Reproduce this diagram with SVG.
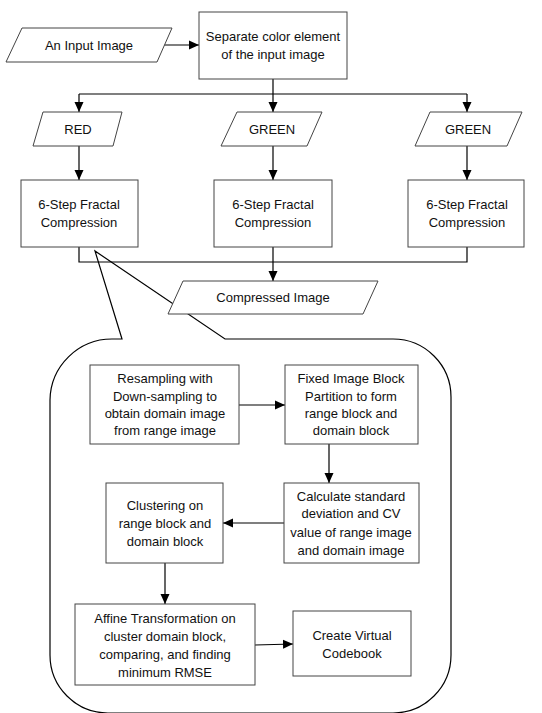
<svg xmlns="http://www.w3.org/2000/svg" width="542" height="713" viewBox="0 0 542 713">
<defs>
<marker id="ah" markerWidth="10" markerHeight="10" viewBox="0 0 10 10" refX="10" refY="5" orient="auto" markerUnits="userSpaceOnUse">
<path d="M0,0.5 L10,5 L0,9.5 Z" fill="#000"/>
</marker>
<style>
.s{fill:#fff;stroke:#444;stroke-width:1}
.c{fill:none;stroke:#000;stroke-width:1.2}
.a{marker-end:url(#ah)}
text{font-family:"Liberation Sans",Arial,sans-serif;font-size:13px;fill:#111;text-anchor:middle}
</style>
</defs>
<rect width="542" height="713" fill="#fff"/>
<g id="callout">
<path class="c" d="M225,339 L393,339 A58,58 0 0 1 451,397 L451,655 A58,58 0 0 1 393,713 L108,713 A58,58 0 0 1 50,655 L50,400 A62,62 0 0 1 112,339 L122,339 L95,251 Z"/>
</g>
<g id="connectors">
<line class="c a" x1="164" y1="45" x2="199" y2="45"/>
<path class="c" d="M273,79 V94 M79,94 H467"/>
<line class="c a" x1="79" y1="94" x2="79" y2="112"/>
<line class="c a" x1="273" y1="94" x2="273" y2="112"/>
<line class="c a" x1="467" y1="94" x2="467" y2="112"/>
<line class="c a" x1="79" y1="146" x2="79" y2="180"/>
<line class="c a" x1="273" y1="146" x2="273" y2="180"/>
<line class="c a" x1="467" y1="146" x2="467" y2="180"/>
<path class="c" d="M79,247 V262 H467 V247"/>
<line class="c a" x1="273" y1="247" x2="273" y2="281"/>
<line class="c a" x1="239" y1="405" x2="285" y2="405"/>
<line class="c a" x1="329" y1="444" x2="329" y2="483"/>
<line class="c a" x1="284" y1="523" x2="223" y2="523"/>
<line class="c a" x1="165" y1="563" x2="165" y2="604"/>
<line class="c a" x1="255" y1="645" x2="293" y2="644"/>
</g>
<g id="input">
<polygon class="s" points="22,28 172,28 157,62 6,62"/>
<text x="89" y="50">An Input Image</text>
</g>
<g id="separate">
<rect class="s" x="199" y="12" width="148" height="67"/>
<text x="273" y="41">Separate color element</text>
<text x="273" y="59">of the input image</text>
</g>
<g id="red">
<polygon class="s" points="43,112 122,112 113,146 33,146"/>
<text x="78" y="134">RED</text>
</g>
<g id="green1">
<polygon class="s" points="237,112 322,112 307,146 221,146"/>
<text x="272" y="134">GREEN</text>
</g>
<g id="green2">
<polygon class="s" points="430,112 522,112 507,146 415,146"/>
<text x="468" y="134">GREEN</text>
</g>
<g id="fc1">
<rect class="s" x="21" y="180" width="117" height="67"/>
<text x="79" y="209">6-Step Fractal</text>
<text x="79" y="227">Compression</text>
</g>
<g id="fc2">
<rect class="s" x="214" y="180" width="118" height="67"/>
<text x="273" y="209">6-Step Fractal</text>
<text x="273" y="227">Compression</text>
</g>
<g id="fc3">
<rect class="s" x="408" y="180" width="116" height="67"/>
<text x="467" y="209">6-Step Fractal</text>
<text x="467" y="227">Compression</text>
</g>
<g id="compressed">
<polygon class="s" points="183,281 378,281 363,314 168,314"/>
<text x="273" y="302">Compressed Image</text>
</g>
<g id="resampling">
<rect class="s" x="90" y="365" width="149" height="79"/>
<text x="165" y="383">Resampling with</text>
<text x="165" y="401">Down-sampling to</text>
<text x="165" y="418">obtain domain image</text>
<text x="165" y="435">from range image</text>
</g>
<g id="fixed">
<rect class="s" x="285" y="365" width="133" height="79"/>
<text x="351" y="383">Fixed Image Block</text>
<text x="351" y="401">Partition to form</text>
<text x="351" y="418">range block and</text>
<text x="351" y="435">domain block</text>
</g>
<g id="calculate">
<rect class="s" x="284" y="483" width="135" height="80"/>
<text x="351" y="501">Calculate standard</text>
<text x="351" y="518">deviation and CV</text>
<text x="351" y="537">value of range image</text>
<text x="351" y="555">and domain image</text>
</g>
<g id="clustering">
<rect class="s" x="106" y="483" width="117" height="80"/>
<text x="165" y="510">Clustering on</text>
<text x="165" y="528">range block and</text>
<text x="165" y="546">domain block</text>
</g>
<g id="affine">
<rect class="s" x="75" y="604" width="180" height="81"/>
<text x="165" y="623">Affine Transformation on</text>
<text x="165" y="641">cluster domain block,</text>
<text x="165" y="659">comparing, and finding</text>
<text x="165" y="677">minimum RMSE</text>
</g>
<g id="codebook">
<rect class="s" x="293" y="611" width="118" height="65"/>
<text x="352" y="640">Create Virtual</text>
<text x="352" y="658">Codebook</text>
</g>
</svg>
